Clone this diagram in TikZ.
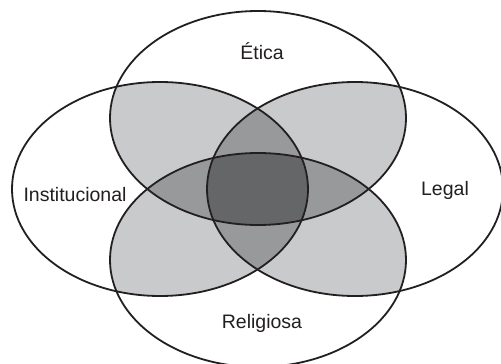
\documentclass[tikz,border=0pt]{standalone}
\usepackage{fontspec}
\setmainfont{Liberation Sans}
\definecolor{lg}{HTML}{C9CACC}
\definecolor{mg}{HTML}{98999B}
\definecolor{dg}{HTML}{656668}
\definecolor{ink}{HTML}{231F20}
\begin{document}
\begin{tikzpicture}[x=1pt,y=-1pt,
  ell/.style={line width=1.8pt, draw=ink},
  lab/.style={font=\fontsize{19.5}{22}\selectfont, text=ink, inner sep=0pt}]
\useasboundingbox (0,0) rectangle (501,364);
\def\ET{(258,118) ellipse [x radius=148pt, y radius=107pt]}
\def\RE{(258,260) ellipse [x radius=148pt, y radius=107pt]}
\def\IN{(160,189) ellipse [x radius=148pt, y radius=107pt]}
\def\LE{(355,189) ellipse [x radius=148pt, y radius=107pt]}
\fill[white] (0,0) rectangle (501,364);
% pairwise overlaps
\begin{scope}\clip \ET; \fill[lg] \IN; \fill[lg] \LE; \fill[lg] \RE;\end{scope}
\begin{scope}\clip \RE; \fill[lg] \IN; \fill[lg] \LE;\end{scope}
\begin{scope}\clip \IN; \fill[lg] \LE;\end{scope}
% triple overlaps
\begin{scope}\clip \ET; \clip \IN; \fill[mg] \LE; \fill[mg] \RE;\end{scope}
\begin{scope}\clip \RE; \clip \IN; \fill[mg] \LE;\end{scope}
\begin{scope}\clip \ET; \clip \LE; \fill[mg] \RE;\end{scope}
% quadruple overlap
\begin{scope}\clip \ET; \clip \IN; \clip \LE; \fill[dg] \RE;\end{scope}
% outlines
\draw[ell] \ET;
\draw[ell] \RE;
\draw[ell] \IN;
\draw[ell] \LE;
% labels
\node[lab] (etica) at (262,51) {Ética};
\node[lab] (inst) at (75,195) {Institucional};
\node[lab] (legal) at (445,190) {Legal};
\node[lab] (relig) at (262,323) {Religiosa};
\end{tikzpicture}
\end{document}
